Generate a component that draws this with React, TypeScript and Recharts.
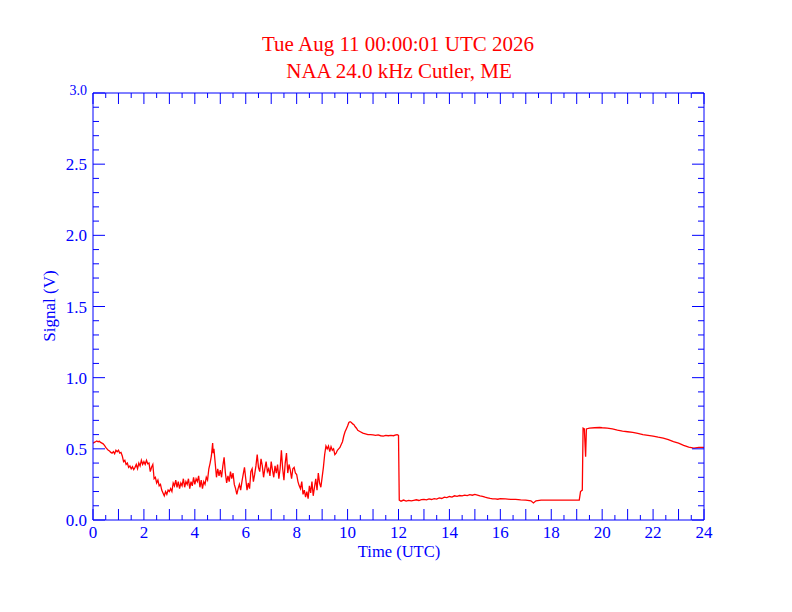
import React from 'react';
import { LineChart, Line, XAxis, YAxis } from 'recharts';

const hours: number[] = [
  0.00, 0.05, 0.10, 0.15, 0.20, 0.25, 0.30, 0.35, 0.40, 0.45, 0.50, 0.55, 0.60, 0.65, 0.70, 0.75, 0.80, 0.85, 0.90, 0.95,
  1.00, 1.05, 1.10, 1.15, 1.20, 1.25, 1.30, 1.35, 1.40, 1.45, 1.50, 1.55, 1.60, 1.65, 1.70, 1.75, 1.80, 1.85, 1.90, 1.95,
  2.00, 2.05, 2.10, 2.15, 2.20, 2.25, 2.30, 2.35, 2.40, 2.45, 2.50, 2.55, 2.60, 2.65, 2.70, 2.75, 2.80, 2.85, 2.90, 2.95,
  3.00, 3.05, 3.10, 3.15, 3.20, 3.25, 3.30, 3.35, 3.40, 3.45, 3.50, 3.55, 3.60, 3.65, 3.70, 3.75, 3.80, 3.85, 3.90, 3.95,
  4.00, 4.05, 4.10, 4.15, 4.20, 4.25, 4.30, 4.35, 4.40, 4.45, 4.50, 4.55, 4.60, 4.65, 4.70, 4.72, 4.75, 4.80, 4.85, 4.90, 4.95,
  5.00, 5.05, 5.10, 5.15, 5.20, 5.25, 5.30, 5.35, 5.40, 5.45, 5.50, 5.55, 5.60, 5.65, 5.70, 5.75, 5.80, 5.85, 5.90, 5.95,
  6.00, 6.05, 6.10, 6.15, 6.20, 6.25, 6.30, 6.35, 6.40, 6.45, 6.50, 6.55, 6.60, 6.65, 6.70, 6.75, 6.80, 6.85, 6.90, 6.95,
  7.00, 7.05, 7.10, 7.15, 7.20, 7.25, 7.30, 7.35, 7.40, 7.45, 7.50, 7.55, 7.60, 7.65, 7.70, 7.75, 7.80, 7.85, 7.90, 7.95,
  8.00, 8.05, 8.10, 8.15, 8.20, 8.25, 8.30, 8.35, 8.40, 8.45, 8.50, 8.55, 8.60, 8.65, 8.70, 8.75, 8.80, 8.85, 8.90, 8.95,
  9.00, 9.05, 9.10, 9.15, 9.20, 9.25, 9.30, 9.35, 9.40, 9.45, 9.50, 9.55, 9.60, 9.65, 9.70, 9.75, 9.80, 9.85, 9.90, 9.95,
  10.00, 10.05, 10.10, 10.15, 10.20, 10.25, 10.30, 10.35, 10.40, 10.50, 10.60, 10.70, 10.80, 10.90,
  11.00, 11.10, 11.20, 11.30, 11.40, 11.50, 11.60, 11.70, 11.80, 11.90, 11.95, 12.00,
  12.03, 12.10, 12.20, 12.30, 12.40, 12.50, 12.60, 12.70, 12.80, 12.90, 13.00, 13.10, 13.20, 13.30, 13.40, 13.50, 13.60, 13.70, 13.80, 13.90,
  14.00, 14.10, 14.20, 14.30, 14.40, 14.50, 14.60, 14.70, 14.80, 14.90, 15.00, 15.10, 15.20, 15.30, 15.40, 15.50, 15.60, 15.70, 15.80, 15.90,
  16.00, 16.20, 16.40, 16.60, 16.80, 17.00, 17.20, 17.30, 17.40, 17.60, 17.80,
  18.00, 18.40, 18.80, 19.10, 19.15, 19.22, 19.25, 19.30, 19.35, 19.38, 19.50, 19.70, 19.90,
  20.00, 20.20, 20.40, 20.60, 20.80, 21.00, 21.20, 21.40, 21.60, 21.80,
  22.00, 22.20, 22.40, 22.60, 22.80, 23.00, 23.20, 23.40, 23.60, 23.80, 24.00,
];

const signal: number[] = [
  0.540, 0.545, 0.550, 0.555, 0.550, 0.553, 0.545, 0.540, 0.535, 0.525, 0.510, 0.500, 0.490, 0.485, 0.475, 0.470, 0.480, 0.465, 0.490, 0.480,
  0.490, 0.470, 0.475, 0.450, 0.410, 0.420, 0.390, 0.400, 0.370, 0.380, 0.360, 0.375, 0.355, 0.370, 0.390, 0.360, 0.400, 0.380, 0.420, 0.390,
  0.410, 0.390, 0.420, 0.395, 0.400, 0.340, 0.370, 0.390, 0.290, 0.300, 0.260, 0.280, 0.240, 0.250, 0.210, 0.190, 0.170, 0.200, 0.180, 0.210,
  0.200, 0.220, 0.200, 0.260, 0.240, 0.280, 0.230, 0.270, 0.220, 0.260, 0.240, 0.290, 0.230, 0.270, 0.250, 0.290, 0.220, 0.270, 0.240, 0.300,
  0.250, 0.290, 0.270, 0.310, 0.230, 0.280, 0.220, 0.270, 0.250, 0.300, 0.280, 0.360, 0.400, 0.450, 0.540, 0.470, 0.500, 0.400, 0.300, 0.360, 0.310,
  0.350, 0.300, 0.380, 0.440, 0.330, 0.260, 0.310, 0.270, 0.340, 0.290, 0.330, 0.250, 0.220, 0.180, 0.220, 0.250, 0.210, 0.270, 0.320, 0.370,
  0.290, 0.210, 0.260, 0.220, 0.340, 0.360, 0.270, 0.320, 0.380, 0.460, 0.370, 0.340, 0.430, 0.380, 0.300, 0.360, 0.410, 0.340, 0.360, 0.310,
  0.410, 0.350, 0.300, 0.380, 0.330, 0.390, 0.290, 0.360, 0.490, 0.360, 0.280, 0.400, 0.470, 0.330, 0.390, 0.350, 0.290, 0.360, 0.370, 0.330,
  0.320, 0.270, 0.240, 0.220, 0.270, 0.180, 0.210, 0.160, 0.200, 0.150, 0.240, 0.190, 0.270, 0.170, 0.230, 0.290, 0.210, 0.330, 0.260, 0.230,
  0.300, 0.370, 0.460, 0.520, 0.500, 0.520, 0.480, 0.515, 0.490, 0.500, 0.460, 0.470, 0.490, 0.500, 0.510, 0.530, 0.550, 0.590, 0.620, 0.640,
  0.660, 0.685, 0.690, 0.685, 0.675, 0.670, 0.655, 0.645, 0.630, 0.620, 0.610, 0.605, 0.600, 0.600,
  0.598, 0.595, 0.598, 0.592, 0.590, 0.595, 0.592, 0.595, 0.592, 0.598, 0.600, 0.595,
  0.140, 0.132, 0.140, 0.133, 0.138, 0.134, 0.138, 0.142, 0.137, 0.143, 0.145, 0.141, 0.148, 0.144, 0.150, 0.147, 0.155, 0.151, 0.160, 0.157,
  0.165, 0.161, 0.170, 0.166, 0.172, 0.169, 0.175, 0.171, 0.178, 0.174, 0.180, 0.175, 0.170, 0.166, 0.160, 0.156, 0.152, 0.149, 0.148, 0.146,
  0.150, 0.148, 0.145, 0.145, 0.142, 0.140, 0.135, 0.120, 0.135, 0.140, 0.140,
  0.140, 0.140, 0.140, 0.140, 0.200, 0.210, 0.645, 0.640, 0.445, 0.640, 0.645, 0.648, 0.650,
  0.648, 0.645, 0.640, 0.632, 0.625, 0.620, 0.615, 0.608, 0.600, 0.595,
  0.590, 0.582, 0.575, 0.565, 0.550, 0.540, 0.525, 0.512, 0.505, 0.510, 0.510,
];

const xTicks: number[] = [
  0, 0.5, 1, 1.5, 2, 2.5, 3, 3.5, 4, 4.5, 5, 5.5, 6, 6.5, 7, 7.5, 8, 8.5, 9, 9.5, 10, 10.5, 11, 11.5,
  12, 12.5, 13, 13.5, 14, 14.5, 15, 15.5, 16, 16.5, 17, 17.5, 18, 18.5, 19, 19.5, 20, 20.5, 21, 21.5,
  22, 22.5, 23, 23.5, 24,
];
const xLabels: number[] = [0, 2, 4, 6, 8, 10, 12, 14, 16, 18, 20, 22, 24];

const yTicks: number[] = [
  0, 0.1, 0.2, 0.3, 0.4, 0.5, 0.6, 0.7, 0.8, 0.9, 1.0, 1.1, 1.2, 1.3, 1.4, 1.5, 1.6, 1.7, 1.8, 1.9,
  2.0, 2.1, 2.2, 2.3, 2.4, 2.5, 2.6, 2.7, 2.8, 2.9, 3.0,
];
const yLabels: number[] = [0, 0.5, 1.0, 1.5, 2.0, 2.5, 3.0];

const data = hours.map((h, i) => ({ h, v: signal[i] }));

const BLUE = '#0000FF';
const RED = '#FF0000';
const FONT = '"Liberation Serif", "Times New Roman", serif';

const isLabelX = (v: number) => xLabels.some((l) => Math.abs(l - v) < 1e-6);
const isLabelY = (v: number) => yLabels.some((l) => Math.abs(l - v) < 1e-6);

const BottomTick = (props: any) => {
  const { x, y, payload } = props;
  const v = payload.value as number;
  const len = Number.isInteger(v) ? 11 : 5;
  return (
    <g>
      <line x1={x} x2={x} y1={y} y2={y - len} stroke={BLUE} strokeWidth={1} />
      {isLabelX(v) && (
        <text x={x} y={y + 18} textAnchor="middle" fill={BLUE} fontSize={17} fontFamily={FONT}>
          {String(v)}
        </text>
      )}
    </g>
  );
};

const TopTick = (props: any) => {
  const { x, y, payload } = props;
  const v = payload.value as number;
  const len = Number.isInteger(v) ? 11 : 5;
  return <line x1={x} x2={x} y1={y} y2={y + len} stroke={BLUE} strokeWidth={1} />;
};

const LeftTick = (props: any) => {
  const { x, y, payload } = props;
  const v = payload.value as number;
  const major = isLabelY(v);
  const len = major ? 12 : 6;
  const top = Math.abs(v - 3) < 1e-6;
  return (
    <g>
      <line x1={x} x2={x + len} y1={y} y2={y} stroke={BLUE} strokeWidth={1} />
      {major && (
        <text
          x={x - 6}
          y={top ? y + 2 : y + 6}
          textAnchor="end"
          fill={BLUE}
          fontSize={top ? 14 : 17}
          fontFamily={FONT}
        >
          {v.toFixed(1)}
        </text>
      )}
    </g>
  );
};

const RightTick = (props: any) => {
  const { x, y, payload } = props;
  const v = payload.value as number;
  const len = isLabelY(v) ? 12 : 6;
  return <line x1={x} x2={x - len} y1={y} y2={y} stroke={BLUE} strokeWidth={1} />;
};

export default function App() {
  return (
    <div style={{ position: 'absolute', left: 0, top: 0, width: 792, height: 612, background: '#fff' }}>
      <LineChart
        width={792}
        height={612}
        data={data}
        margin={{ top: 92, right: 87, bottom: 91, left: 92 }}
      >
        <XAxis
          xAxisId="bottom"
          dataKey="h"
          type="number"
          domain={[0, 24]}
          ticks={xTicks}
          interval={0}
          height={1}
          tickSize={0}
          tickMargin={0}
          tickLine={false}
          axisLine={{ stroke: BLUE, strokeWidth: 1 }}
          tick={<BottomTick />}
          allowDataOverflow
        />
        <XAxis
          xAxisId="top"
          dataKey="h"
          orientation="top"
          type="number"
          domain={[0, 24]}
          ticks={xTicks}
          interval={0}
          height={1}
          tickSize={0}
          tickMargin={0}
          tickLine={false}
          axisLine={{ stroke: BLUE, strokeWidth: 1 }}
          tick={<TopTick />}
          allowDataOverflow
        />
        <YAxis
          yAxisId="left"
          type="number"
          domain={[0, 3]}
          ticks={yTicks}
          interval={0}
          width={1}
          tickSize={0}
          tickMargin={0}
          tickLine={false}
          axisLine={{ stroke: BLUE, strokeWidth: 1 }}
          tick={<LeftTick />}
          allowDataOverflow
        />
        <YAxis
          yAxisId="right"
          dataKey="v"
          orientation="right"
          type="number"
          domain={[0, 3]}
          ticks={yTicks}
          interval={0}
          width={1}
          tickSize={0}
          tickMargin={0}
          tickLine={false}
          axisLine={{ stroke: BLUE, strokeWidth: 1 }}
          tick={<RightTick />}
          allowDataOverflow
        />
        <Line
          xAxisId="bottom"
          yAxisId="left"
          dataKey="v"
          type="linear"
          stroke={RED}
          strokeWidth={1.3}
          dot={false}
          isAnimationActive={false}
        />
      </LineChart>
      <svg
        width={792}
        height={612}
        style={{ position: 'absolute', left: 0, top: 0, pointerEvents: 'none' }}
      >
        <text x={398} y={51} textAnchor="middle" fill={RED} fontSize={21} fontFamily={FONT}>
          Tue Aug 11 00:00:01 UTC 2026
        </text>
        <text x={399} y={78} textAnchor="middle" fill={RED} fontSize={21} fontFamily={FONT}>
          NAA 24.0 kHz Cutler, ME
        </text>
        <text x={399} y={557} textAnchor="middle" fill={BLUE} fontSize={16.5} fontFamily={FONT}>
          Time (UTC)
        </text>
        <text
          x={55}
          y={306}
          textAnchor="middle"
          fill={BLUE}
          fontSize={17}
          fontFamily={FONT}
          transform="rotate(-90 55 306)"
        >
          Signal (V)
        </text>
      </svg>
    </div>
  );
}
